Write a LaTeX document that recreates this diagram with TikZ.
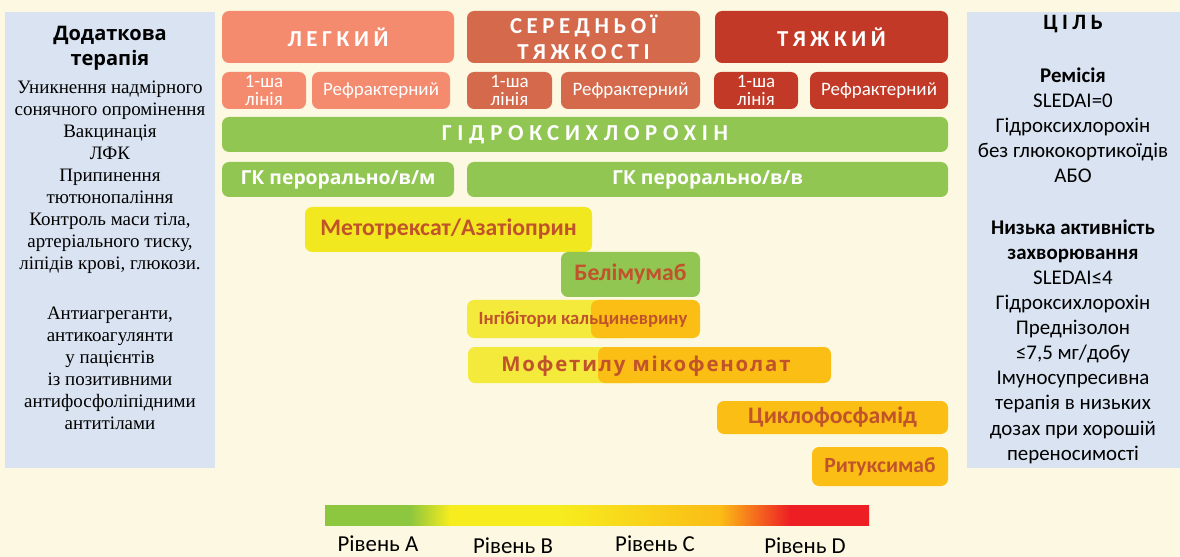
\documentclass[tikz,border=0pt]{standalone}
\usepackage{fontspec}
\setmainfont{Liberation Serif}
\newfontfamily\calf{Carlito}
\newfontfamily\calW[LetterSpace=20]{Carlito}
\newfontfamily\calWW[LetterSpace=25]{Carlito}
\newfontfamily\osf{Open Sans}
\newfontfamily\osfM[LetterSpace=9]{Open Sans}
\definecolor{bgc}{HTML}{FDF8E1}
\definecolor{panelc}{HTML}{D9E3F1}
\definecolor{mildc}{HTML}{F48A6E}
\definecolor{midc}{HTML}{D4694B}
\definecolor{sevc}{HTML}{C23A27}
\definecolor{greenc}{HTML}{92C653}
\definecolor{yelc}{HTML}{F2E81F}
\definecolor{yellc}{HTML}{F3EA3C}
\definecolor{orc}{HTML}{FBBE14}
\definecolor{drugc}{HTML}{C0532B}
\definecolor{lvgreen}{HTML}{8DC63F}
\definecolor{lvyellow}{HTML}{F6EC1E}
\definecolor{lvgold}{HTML}{FBBC16}
\definecolor{lvred}{HTML}{EE1F24}
\pgfdeclarehorizontalshading{lvl}{100bp}{color(0bp)=(lvgreen); color(32.8bp)=(lvgreen); color(36.5bp)=(lvyellow); color(46.6bp)=(lvyellow); color(61.3bp)=(lvgold); color(67.7bp)=(lvred); color(100bp)=(lvred)}
\newcommand\mkbox[7]{\node[#6, minimum width={(#4-#2)*0.02cm}, minimum height={(#5-#3)*0.02cm}] (#1) at ({(#2+#4)/2},{(#3+#5)/2}) {#7};}
\tikzset{
  box/.style={rounded corners=4pt, inner sep=0pt, outer sep=0pt, align=center},
  head/.style={box, text=white, font=\calW\bfseries\fontsize{13}{14.8}\selectfont},
  sub/.style={box, text=white, font=\calf\fontsize{10.8}{10.5}\selectfont},
  gk/.style={box, fill=greenc, text=white, font=\osf\bfseries\fontsize{11}{13}\selectfont},
  drug/.style={box, text=drugc, font=\calf\bfseries\fontsize{13.5}{15}\selectfont},
  panel/.style={inner sep=0pt, outer sep=0pt, fill=panelc},
  lvlabel/.style={font=\calf\fontsize{13}{14}\selectfont, inner sep=0pt, anchor=base},
}
\begin{document}
\begin{tikzpicture}[x=0.02cm,y=-0.02cm]
\useasboundingbox (0,0) rectangle (1180,557);
\fill[bgc] (0,0) rectangle (1180,557);
% side panels
\mkbox{leftpanel}{5}{12}{215}{468}{panel}{}
\mkbox{rightpanel}{967}{12}{1180}{468}{panel}{}
% left panel text
\node[align=center, font=\osf\bfseries\fontsize{11.4}{14}\selectfont] (ltitle) at (110,48) {Додаткова\\терапія};
\node[align=center, font=\fontsize{10.8}{12.55}\selectfont] (lbody1) at (110,177.5) {Уникнення надмірного\\сонячного опромінення\\Вакцинація\\ЛФК\\Припинення\\тютюнопаління\\Контроль маси тіла,\\артеріального тиску,\\ліпідів крові, глюкози.};
\node[align=center, font=\fontsize{10.8}{12.55}\selectfont] (lbody2) at (110,368) {Антиагреганти,\\антикоагулянти\\у пацієнтів\\із позитивними\\антифосфоліпідними\\антитілами};
% right panel text
\node[anchor=base, inner sep=0pt, font=\calW\bfseries\fontsize{12.5}{14}\selectfont] (rtitle) at (1073,30) {ЦІЛЬ};
\node[align=center, font=\calf\fontsize{11.9}{14.2}\selectfont] (rbody1) at (1073,125) {\textbf{Ремісія}\\SLEDAI=0\\Гідроксихлорохін\\без глюкокортикоїдів\\АБО};
\node[align=center, font=\calf\fontsize{11.9}{14.3}\selectfont] (rbody2) at (1073,341.5) {\textbf{Низька активність}\\\textbf{захворювання}\\SLEDAI≤4\\Гідроксихлорохін\\Преднізолон\\≤7,5 мг/добу\\Імуносупресивна\\терапія в низьких\\дозах при хорошій\\переносимості};
% severity headers
\mkbox{mild}{222}{11}{454}{63}{head, fill=mildc}{ЛЕГКИЙ}
\mkbox{moderate}{467}{11}{700}{63}{head, fill=midc}{СЕРЕДНЬОЇ\\ТЯЖКОСТІ}
\mkbox{severe}{715}{11}{948}{63}{head, fill=sevc}{ТЯЖКИЙ}
% sub boxes
\mkbox{mildfirst}{222}{72}{306}{109}{sub, fill=mildc}{1-ша\\лінія}
\mkbox{mildref}{312}{72}{450}{109}{sub, fill=mildc}{Рефрактерний}
\mkbox{modfirst}{467}{72}{552}{109}{sub, fill=midc}{1-ша\\лінія}
\mkbox{modref}{561}{72}{700}{109}{sub, fill=midc}{Рефрактерний}
\mkbox{sevfirst}{714}{72}{798}{109}{sub, fill=sevc}{1-ша\\лінія}
\mkbox{sevref}{810}{72}{948}{109}{sub, fill=sevc}{Рефрактерний}
% hydroxychloroquine
\mkbox{hcq}{222}{117}{948}{152}{head, fill=greenc, font=\calWW\bfseries\fontsize{13}{14.8}\selectfont}{ГІДРОКСИХЛОРОХІН}
% GC
\mkbox{gkim}{222}{162}{454}{197}{gk}{ГК перорально/в/м}
\mkbox{gkiv}{467}{162}{948}{197}{gk}{ГК перорально/в/в}
% drugs
\mkbox{mtx}{305}{207}{592}{252}{drug, fill=yelc}{Метотрексат/Азатіоприн}
\mkbox{bel}{561}{252}{700}{297}{drug, fill=greenc}{Белімумаб}
\mkbox{cniy}{467}{300}{632}{338}{box, fill=yellc}{}
\mkbox{cnio}{591}{300}{700}{338}{box, fill=orc}{}
\node[text=drugc, font=\calf\bfseries\fontsize{10.6}{12}\selectfont, inner sep=0pt] (cni) at (583,319) {Інгібітори кальциневрину};
\mkbox{mmfy}{468}{347}{640}{383}{box, fill=yellc}{}
\mkbox{mmfo}{598}{347}{831}{383}{box, fill=orc}{}
\node[text=drugc, font=\osfM\bfseries\fontsize{11.6}{13}\selectfont, inner sep=0pt] (mmf) at (646,366) {Мофетилу мікофенолат};
\mkbox{cyc}{717}{401}{948}{434}{drug, fill=orc}{Циклофосфамід}
\mkbox{rtx}{812}{447}{948}{486}{drug, fill=orc, font=\calf\bfseries\fontsize{12.3}{14}\selectfont}{Ритуксимаб}
% level bar
\node[shading=lvl, minimum width={544*0.02cm}, minimum height={20*0.02cm}, inner sep=0pt, outer sep=0pt] (lvbar) at (597,515) {};
\node[lvlabel] (lva) at (378,551.5) {Рівень A};
\node[lvlabel] (lvb) at (513,553) {Рівень B};
\node[lvlabel] (lvc) at (655,551.5) {Рівень C};
\node[lvlabel] (lvd) at (805,553) {Рівень D};
\end{tikzpicture}
\end{document}
